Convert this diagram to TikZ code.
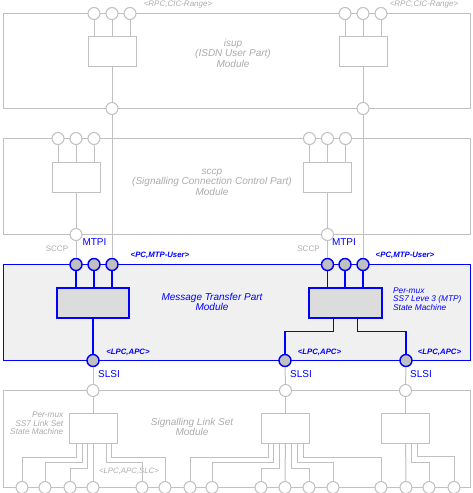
\documentclass[tikz,border=0pt]{standalone}
\usepackage{fontspec}
\setmainfont{Liberation Sans}
\usepackage{tikz}
\usetikzlibrary{positioning,calc}

\definecolor{lgray}{RGB}{192,192,192}
\definecolor{tgray}{RGB}{172,172,172}
\definecolor{mtpblue}{RGB}{0,0,255}
\definecolor{mtpfill}{RGB}{240,240,240}
\definecolor{portfill}{RGB}{192,192,192}
\definecolor{boxfill}{RGB}{220,220,220}

\tikzset{
  gline/.style={draw=lgray, line width=1pt},
  bline/.style={draw=mtpblue, line width=1.4pt},
  gmod/.style={gline, rectangle, fill=white, inner sep=0pt},
  bmod/.style={bline, rectangle, fill=mtpfill, inner sep=0pt},
  gport/.style={gline, circle, fill=white, minimum size=12pt, inner sep=0pt},
  bport/.style={bline, circle, fill=portfill, minimum size=12pt, inner sep=0pt},
  gbox/.style={gline, rectangle, fill=white, minimum width=48pt, minimum height=30pt, inner sep=0pt},
  bbox/.style={bline, rectangle, fill=boxfill, minimum height=30pt, inner sep=0pt},
  gmodtext/.style={text=tgray, font=\fontsize{10}{10.5}\selectfont\itshape, align=center, inner sep=0pt},
  bmodtext/.style={text=mtpblue, font=\fontsize{10}{10}\selectfont\itshape, align=center, inner sep=0pt},
  gsmall/.style={text=tgray, font=\fontsize{8}{8}\selectfont\itshape, inner sep=0pt},
  bsmall/.style={text=mtpblue, font=\fontsize{7.8}{8}\selectfont\bfseries\itshape, inner sep=0pt},
  blabel/.style={text=mtpblue, font=\fontsize{10}{10}\selectfont, inner sep=0pt},
  glabel/.style={text=tgray, font=\fontsize{8}{8}\selectfont, inner sep=0pt},
  gnote/.style={text=tgray, font=\fontsize{8.3}{8.6}\selectfont\itshape, align=right, inner sep=0pt},
  bnote/.style={text=mtpblue, font=\fontsize{8.3}{8.6}\selectfont\itshape, align=left, inner sep=0pt}
}

\begin{document}
\begin{tikzpicture}[x=1pt, y=-1pt]
    \useasboundingbox (0,0) rectangle (472,493);

    % isup
    \node[gmod, minimum width=467pt, minimum height=95pt] (isup) at (237,61) {};
    \node[gmodtext] (isuptxt) at (233,53) {isup\\(ISDN User Part)\\Module};
    \node[gbox] (ibox1) at (112,51.5) {};
    \node[gbox] (ibox2) at (363,51.5) {};
    \node[gport] (it1) at (94,13.5) {};
    \node[gport] (it2) at (112,13.5) {};
    \node[gport] (it3) at (130,13.5) {};
    \node[gport] (it4) at (345,13.5) {};
    \node[gport] (it5) at (363,13.5) {};
    \node[gport] (it6) at (381,13.5) {};
    \node[gport] (ib1) at (112,108.5) {};
    \node[gport] (ib2) at (363,108.5) {};
    \node[gsmall] (rpc1) at (178,4.5) {<RPC,CIC-Range>};
    \node[gsmall] (rpc2) at (424,4.5) {<RPC,CIC-Range>};

    % sccp
    \node[gmod, minimum width=467pt, minimum height=96pt] (sccp) at (237,186.5) {};
    \node[gmodtext] (sccptxt) at (212,182) {sccp\\(Signalling Connection Control Part)\\Module};
    \node[gbox] (cbox1) at (76,177.5) {};
    \node[gbox] (cbox2) at (327.5,177.5) {};
    \node[gport] (ct1) at (58,138.5) {};
    \node[gport] (ct2) at (76,138.5) {};
    \node[gport] (ct3) at (94,138.5) {};
    \node[gport] (ct4) at (309.5,138.5) {};
    \node[gport] (ct5) at (327.5,138.5) {};
    \node[gport] (ct6) at (345.5,138.5) {};
    \node[gport] (cb1) at (76,234.5) {};
    \node[gport] (cb2) at (327.5,234.5) {};
    \node[glabel] (sccpl1) at (57,249) {SCCP};
    \node[glabel] (sccpl2) at (308.5,249) {SCCP};
    \node[blabel] (mtpi1) at (94.5,242) {MTPI};
    \node[blabel] (mtpi2) at (344,242) {MTPI};
    \node[bsmall] (user1) at (160,255) {<PC,MTP-User>};
    \node[bsmall] (user2) at (405,255) {<PC,MTP-User>};

    % mtp
    \node[bmod, minimum width=467pt, minimum height=96pt] (mtp) at (237,312.5) {};
    \node[bmodtext] (mtptxt) at (212,302) {Message Transfer Part\\Module};
    \node[bnote, anchor=west] (mtpnote) at (393,299) {Per-mux\\SS7 Leve 3 (MTP)\\State Machine};
    \node[bbox, minimum width=72pt] (mb1) at (93,303) {};
    \node[bbox, minimum width=73pt] (mb2) at (345.5,303) {};
    \node[bport] (mt1) at (76,264.5) {};
    \node[bport] (mt2) at (94,264.5) {};
    \node[bport] (mt3) at (112,264.5) {};
    \node[bport] (mt4) at (327.5,264.5) {};
    \node[bport] (mt5) at (345,264.5) {};
    \node[bport] (mt6) at (363,264.5) {};
    \node[bport] (ms1) at (93,360.5) {};
    \node[bport] (ms2) at (285,360.5) {};
    \node[bport] (ms3) at (406,360.5) {};
    \node[bsmall] (apc1) at (128,352) {<LPC,APC>};
    \node[bsmall] (apc2) at (319.5,352) {<LPC,APC>};
    \node[bsmall] (apc3) at (439.5,352) {<LPC,APC>};
    \node[blabel] (slsi1) at (109,374) {SLSI};
    \node[blabel] (slsi2) at (301,374) {SLSI};
    \node[blabel] (slsi3) at (421,374) {SLSI};

    % signalling link set
    \node[gmod, minimum width=467pt, minimum height=97pt] (sls) at (237,439) {};
    \node[gmodtext] (slstxt) at (192,427) {Signalling Link Set\\Module};
    \node[gnote, anchor=east] (slsnote) at (63.5,423.5) {Per-mux\\SS7 Link Set\\State Machine};
    \node[gbox] (sb1) at (93,428) {};
    \node[gbox] (sb2) at (285.5,428) {};
    \node[gbox] (sb3) at (405.5,428) {};
    \node[gport] (st1) at (93,390.5) {};
    \node[gport] (st2) at (285.5,390.5) {};
    \node[gport] (st3) at (405.5,390.5) {};
    \foreach \n/\x in {1/22,2/45,3/70,4/93,5/142,6/165,7/190,8/212,9/261,10/285,11/309,12/333,13/381,14/406,15/429,16/454}
        \node[gport] (sp\n) at (\x,487.5) {};
    \node[gsmall, font=\fontsize{7.8}{8}\selectfont\itshape] (slc) at (129,471) {<LPC,APC,SLC>};

    % port to box
    \foreach \p/\b in {it1/ibox1,it2/ibox1,it3/ibox1,it4/ibox2,it5/ibox2,it6/ibox2,ct1/cbox1,ct2/cbox1,ct3/cbox1,ct4/cbox2,ct5/cbox2,ct6/cbox2}
        \draw[gline] (\p) -- (\p |- \b.north);
    \foreach \p/\b in {mt1/mb1,mt2/mb1,mt3/mb1,mt4/mb2,mt5/mb2,mt6/mb2}
        \draw[bline] (\p) -- (\p |- \b.north);
    \draw[gline] (ibox1) -- (ib1);
    \draw[gline] (ibox2) -- (ib2);
    \draw[gline] (cbox1) -- (cb1);
    \draw[gline] (cbox2) -- (cb2);
    \draw[bline] (mb1) -- (ms1);
    \draw[bline] (mb2.south) ++(-12,0) -- ++(0,13) -| (ms2);
    \draw[bline] (mb2.south) ++(12,0) -- ++(0,13) -| (ms3);
    \draw[gline] (st1) -- (sb1);
    \draw[gline] (st2) -- (sb2);
    \draw[gline] (st3) -- (sb3);

    % between modules
    \draw[gline] (ib1) -- (mt3);
    \draw[gline] (ib2) -- (mt6);
    \draw[gline] (cb1) -- (mt1);
    \draw[gline] (cb2) -- (mt4);
    \draw[gline] (ms1) -- (st1);
    \draw[gline] (ms2) -- (st2);
    \draw[gline] (ms3) -- (st3);

    % link wiring
    \draw[gline] (sb1) -- (sp4);
    \draw[gline] (sb2) -- (sp10);
    \draw[gline] (sb3) -- (sp14);
    \foreach \b/\dx/\dy/\p in {sb1/-17/13.5/1, sb1/-11/19/2, sb1/-6/25/3, sb1/13/19/5, sb1/18/13.5/6,
                               sb2/-17.5/13.5/7, sb2/-12.5/19/8, sb2/-6.5/25/9, sb2/6/25/11, sb2/12/19/12, sb2/18/13.5/13,
                               sb3/5.5/19/15, sb3/12/12.5/16}
        \draw[gline] (\b.south) ++(\dx,0) -- ++(0,\dy) -| (sp\p);
\end{tikzpicture}
\end{document}
